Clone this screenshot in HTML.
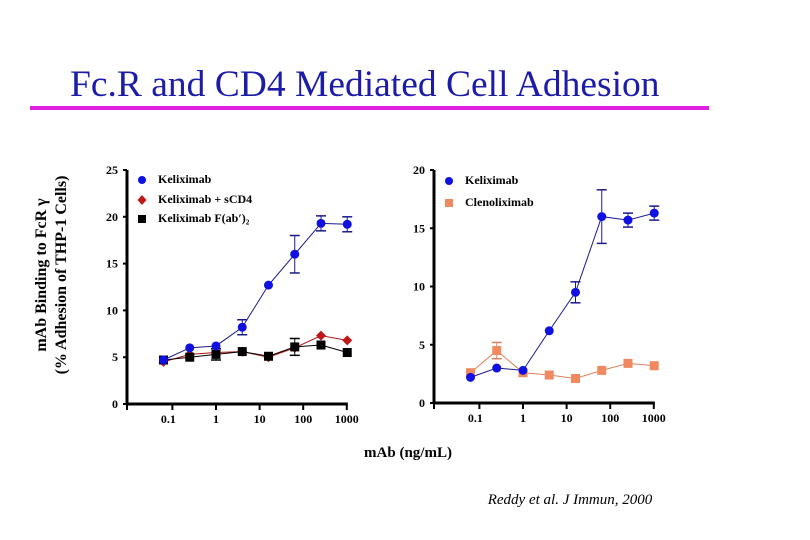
<!DOCTYPE html>
<html><head><meta charset="utf-8"><style>
body{margin:0;background:#fff;width:810px;height:540px;overflow:hidden}
svg{display:block;font-family:"Liberation Serif",serif}
</style></head><body>
<svg id="s" width="810" height="540">
<text x="70" y="96" font-size="37.5" fill="#1c1ca8">Fc.R and CD4 Mediated Cell Adhesion</text>
<rect x="30" y="106" width="679" height="4" fill="#e020e0"/>
<g transform="translate(46,275) rotate(-90)" font-weight="bold" font-size="16" text-anchor="middle">
<text x="0" y="0">mAb Binding to FcR γ</text>
<text x="0" y="20">(% Adhesion of THP-1 Cells)</text>
</g>
<text x="408" y="457" font-size="15" font-weight="bold" text-anchor="middle">mAb (ng/mL)</text>
<text x="570" y="504" font-size="15" font-style="italic" text-anchor="middle">Reddy et al. J Immun,  2000</text>
<g id="c1"></g>
<g id="c2"></g>
</svg>
<script>
const conc=[0.0625,0.25,1,4,16,64,256,1024];
const xTicks=[0.1,1,10,100,1000];
const xTickLabels=["0.1","1","10","100","1000"];
const L_kel=[4.7,6.0,6.2,8.2,12.7,16.0,19.3,19.2];
const L_kelErr=[0,0,0,0.8,0,2.0,0.8,0.8];
const L_scd4=[4.5,5.3,5.5,5.6,5.0,6.0,7.3,6.8];
const L_fab=[4.7,5.0,5.3,5.6,5.1,6.1,6.3,5.5];
const L_fabErr=[0,0,0.6,0,0,0.9,0,0];
const L_yTicks=[0,5,10,15,20,25];
const R_kel=[2.2,3.0,2.8,6.2,9.5,16.0,15.7,16.3];
const R_kelErr=[0,0,0,0,0.9,2.3,0.6,0.6];
const R_cle=[2.6,4.5,2.6,2.4,2.1,2.8,3.4,3.2];
const R_cleErr=[0,0.7,0,0,0,0,0,0];
const R_yTicks=[0,5,10,15,20];
const NS="http://www.w3.org/2000/svg";
function mk(p,t,a){const e=document.createElementNS(NS,t);for(const k in a)e.setAttribute(k,a[k]);p.appendChild(e);return e;}
function chart(g,ax,y0,ymaxPx,ymax,yTicks,xEnd,series,legend){
  const xs=v=>ax+89+43.6*Math.log10(v);
  const ys=v=>y0-(y0-ymaxPx)*v/ymax;
  let e=mk(g,'line',{x1:ax,y1:y0,x2:ax,y2:ymaxPx,stroke:'#000','stroke-width':3});
  
  e=mk(g,'line',{x1:ax,y1:y0,x2:xs(1000)+1,y2:y0,stroke:'#000','stroke-width':3});
  
  yTicks.forEach(t=>{mk(g,'line',{x1:ax-4,y1:ys(t),x2:ax,y2:ys(t),stroke:'#000','stroke-width':2});
    const tx=mk(g,'text',{x:ax-9,y:ys(t)+4,'font-size':12,'font-weight':'bold','text-anchor':'end'});tx.textContent=t;
    });
  mk(g,'line',{x1:ax,y1:y0,x2:ax,y2:y0+6,stroke:'#000','stroke-width':2});
  xTicks.forEach((t,i)=>{const x=xs(t);mk(g,'line',{x1:x,y1:y0,x2:x,y2:y0+6,stroke:'#000','stroke-width':2});
    const tx=mk(g,'text',{x:x+(i==0?-4:0),y:y0+19,'font-size':12,'font-weight':'bold','text-anchor':'middle'});tx.textContent=xTickLabels[i];
    });
  series.forEach(s=>{
    const sg=mk(g,'g',{});
    mk(sg,'polyline',{points:conc.map((c,i)=>xs(c)+','+ys(s.v[i])).join(' '),fill:'none',stroke:s.line,'stroke-width':1});
    s.v.forEach((v,i)=>{const x=xs(conc[i]),y=ys(v),er=s.err?s.err[i]:0;
      if(er>0){mk(sg,'line',{x1:x,y1:ys(v-er),x2:x,y2:ys(v+er),stroke:s.line,'stroke-width':1});
        [v-er,v+er].forEach(q=>mk(sg,'line',{x1:x-5,y1:ys(q),x2:x+5,y2:ys(q),stroke:s.line,'stroke-width':1.5}));}
      let m;
      if(s.shape=='c')m=mk(sg,'circle',{cx:x,cy:y,r:4.5,fill:s.fill});
      else if(s.shape=='s')m=mk(sg,'rect',{x:x-4.5,y:y-4.5,width:9,height:9,fill:s.fill});
      else m=mk(sg,'polygon',{points:`${x},${y-5} ${x+5},${y} ${x},${y+5} ${x-5},${y}`,fill:s.fill});
      });
  });
  legend.forEach(l=>{const lg=mk(g,'g',{});
    if(l.shape=='c')mk(lg,'circle',{cx:l.x,cy:l.y,r:4,fill:l.fill});
    else if(l.shape=='s')mk(lg,'rect',{x:l.x-4,y:l.y-4,width:8,height:8,fill:l.fill});
    else mk(lg,'polygon',{points:`${l.x},${l.y-5} ${l.x+4.5},${l.y} ${l.x},${l.y+5} ${l.x-4.5},${l.y}`,fill:l.fill});
    const t=mk(lg,'text',{x:l.x+16,y:l.y+3,'font-size':12,'font-weight':'bold'});t.textContent=l.t;});
}
chart(document.getElementById('c1'),127,404,170,25,L_yTicks,347,[
 {name:'series-keliximab-scd4',v:L_scd4,line:'#b01010',fill:'#c01818',shape:'d'},
 {name:'series-keliximab-fab2',v:L_fab,err:L_fabErr,line:'#000',fill:'#000',shape:'s'},
 {name:'series-keliximab',v:L_kel,err:L_kelErr,line:'#1a1a90',fill:'#1010e0',shape:'c'}],
 [{x:142,y:180,shape:'c',fill:'#1010e0',t:'Keliximab'},{x:142,y:200,shape:'d',fill:'#c01818',t:'Keliximab + sCD4'},{x:142,y:219,shape:'s',fill:'#000',t:'Keliximab F(ab′)₂'}]);
chart(document.getElementById('c2'),434,403,170,20,R_yTicks,653,[
 {name:'series-clenoliximab',v:R_cle,err:R_cleErr,line:'#e08060',fill:'#f08860',shape:'s'},
 {name:'series-keliximab',v:R_kel,err:R_kelErr,line:'#1a1a90',fill:'#1010e0',shape:'c'}],
 [{x:449,y:181,shape:'c',fill:'#1010e0',t:'Keliximab'},{x:449,y:203,shape:'s',fill:'#f08860',t:'Clenoliximab'}]);
</script>
</body></html>
